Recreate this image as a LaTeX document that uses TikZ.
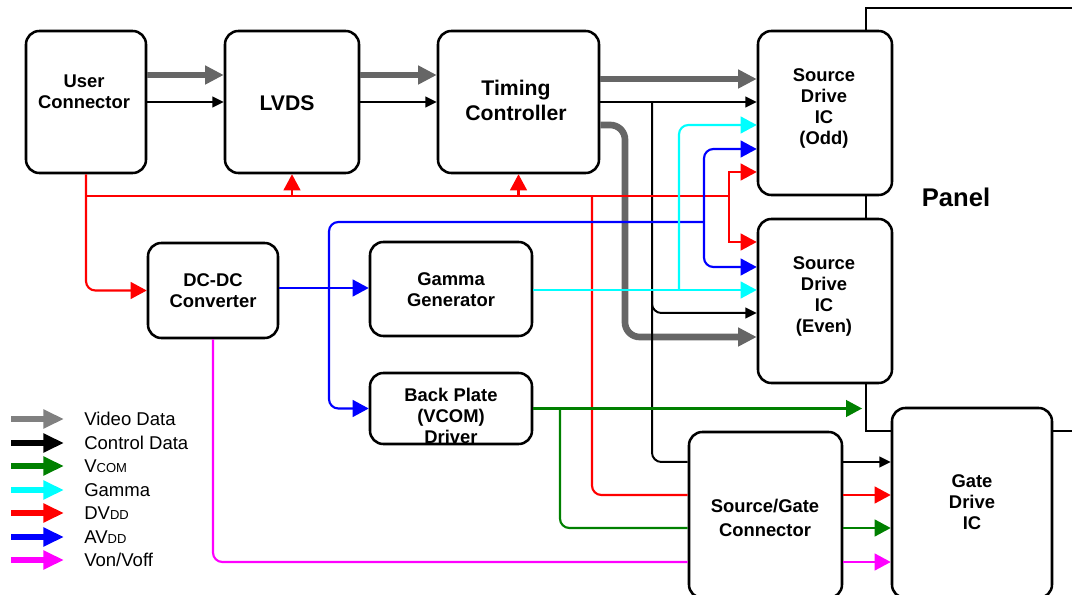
\documentclass[tikz,border=0pt]{standalone}
\usepackage{fontspec}
\setmainfont{Liberation Sans}
\usetikzlibrary{arrows.meta,fit,calc}
\definecolor{vgrey}{RGB}{102,102,102}
\definecolor{lgrey}{RGB}{128,128,128}
\definecolor{vgreen}{RGB}{0,128,0}
\definecolor{vcyan}{RGB}{0,255,255}
\definecolor{vred}{RGB}{255,0,0}
\definecolor{vblue}{RGB}{0,0,255}
\definecolor{vmag}{RGB}{255,0,255}
\begin{document}
\begin{tikzpicture}[x=0.75pt,y=-0.75pt,
  box/.style={draw, line width=1.9pt, rounded corners=10pt, fill=white, inner sep=0pt},
  lbl/.style={font=\bfseries\fontsize{13.8}{15.75}\selectfont, align=center, inner sep=0pt},
  lblL/.style={font=\bfseries\fontsize{15.9}{18.75}\selectfont, align=center, inner sep=0pt},
  leg/.style={font=\fontsize{13.9}{16}\selectfont, anchor=west, inner sep=0pt},
  ctl/.style={draw=black, line width=1.5pt, rounded corners=7pt},
  ctlA/.style={ctl, -{Triangle[length=8.5pt,width=8pt]}},
  pw/.style={draw=#1, line width=1.6pt, rounded corners=7pt},
  pwA/.style={pw=#1, -{Triangle[length=12pt,width=12.5pt]}},
  vid/.style={draw=vgrey, line width=5pt, rounded corners=11pt},
  vidA/.style={vid, -{Triangle[length=14pt,width=13.5pt]}},
  legA/.style={draw=#1, line width=4.5pt, -{Triangle[length=15.5pt,width=13.5pt]}}
]
\path[use as bounding box] (0,0) rectangle (1072,595);
\clip (0,0) rectangle (1072,595);

% panel
\node[draw, line width=1.9pt, inner sep=0pt, fit={(866,8) (1110,431)}] (panel) {};
\node[font=\bfseries\fontsize{19.2}{22}\selectfont, inner sep=0pt] (panelt) at (956,197) {Panel};

% boxes
\node[box, fit={(26,31) (146,173)}] (uc) {};
\node[box, fit={(225,31) (359,173)}] (lvds) {};
\node[box, fit={(438,31) (599,173)}] (tc) {};
\node[box, fit={(758,31) (892,195)}] (sodd) {};
\node[box, fit={(758,219) (892,383)}] (seven) {};
\node[box, fit={(148,243) (278,338)}] (dcdc) {};
\node[box, fit={(370,242) (532,336)}] (gamma) {};
\node[box, fit={(370,373) (532,444)}] (bp) {};
\node[box, fit={(689,432) (842,598)}] (sgc) {};
\node[box, fit={(892,408) (1052,598)}] (gd) {};

% labels
\node[lbl] (uct) at (84,91.5) {User\\Connector};
\node[lblL] (lvdst) at (287,103) {LVDS};
\node[lblL] (tct) at (516,100.5) {Timing\\Controller};
\node[lbl] (soddt) at (824,108.5) {Source\\Drive\\IC\\(Odd)};
\node[lbl] (sevent) at (824,296.5) {Source\\Drive\\IC\\(Even)};
\node[lbl] (dcdct) at (213,291) {DC-DC\\Converter};
\node[lbl] (gammat) at (451,289.5) {Gamma\\Generator};
\node[lbl] (bpt) at (451,415.5) {Back Plate\\(VCOM)\\Driver};
\node[lbl] (sgct) at (765,518) {Source/Gate\\[2.3pt]Connector};
\node[lbl] (gdt) at (972,502) {Gate\\Drive\\IC};

% level coordinates
\coordinate (y75) at (0,75);
\coordinate (y79) at (0,79);
\coordinate (y102) at (0,102);
\coordinate (y125) at (0,125);
\coordinate (y149) at (0,149);
\coordinate (y172) at (0,172);
\coordinate (y196) at (0,196);
\coordinate (y242) at (0,242);
\coordinate (y267) at (0,267);
\coordinate (y288) at (0,288);
\coordinate (y290) at (0,290);
\coordinate (y313) at (0,313);
\coordinate (y337) at (0,337);
\coordinate (y462) at (0,462);
\coordinate (y495) at (0,495);
\coordinate (y528) at (0,528);
\coordinate (y562) at (0,562);
\coordinate (rx) at (729,196);
\coordinate (rdown) at (592,196);
\coordinate (gx) at (625,125);
\coordinate (bx) at (652,102);
\coordinate (cx) at (679,290);
\coordinate (bl1) at (329,222);
\coordinate (bl2) at (704,222);
\coordinate (gj) at (560,408);

% video data
\draw[vidA] (uc.east |- y75) -- (lvds.west |- y75);
\draw[vidA] (lvds.east |- y75) -- (tc.west |- y75);
\draw[vidA] (tc.east |- y79) -- (sodd.west |- y79);
\draw[vidA] (tc.east |- y125) -- (gx) -- (gx |- y337) -- (seven.west |- y337);

% control data
\draw[ctlA] (uc.east |- y102) -- (lvds.west |- y102);
\draw[ctlA] (lvds.east |- y102) -- (tc.west |- y102);
\draw[ctlA] (tc.east |- y102) -- (sodd.west |- y102);
\draw[ctl] (bx) -- (bx |- y462) -- (sgc.west |- y462);
\draw[ctlA] (bx |- y290) -- (bx |- y313) -- (seven.west |- y313);
\draw[ctlA] (sgc.east |- y462) -- (gd.west |- y462);

% DVDD
\draw[pwA=vred] (uc.south) -- (uc.south |- dcdc.west) -- (dcdc.west);
\draw[pw=vred] (uc.south |- y196) -- (rx);
\draw[pwA=vred] (lvds.south |- y196) -- (lvds.south);
\draw[pwA=vred] (tc.south |- y196) -- (tc.south);
\draw[pwA=vred, sharp corners] (rx) -- (rx |- y172) -- (sodd.west |- y172);
\draw[pwA=vred, sharp corners] (rx) -- (rx |- y242) -- (seven.west |- y242);
\draw[pw=vred] (rdown) -- (rdown |- y495) -- (sgc.west |- y495);
\draw[pwA=vred] (sgc.east |- y495) -- (gd.west |- y495);

% AVDD
\draw[pwA=vblue] (dcdc.east |- y288) -- (gamma.west |- y288);
\draw[pwA=vblue] (bl2) -- (bl1) -- (bl1 |- bp.west) -- (bp.west);
\draw[pwA=vblue] (bl2) -- (bl2 |- y149) -- (sodd.west |- y149);
\draw[pwA=vblue] (bl2) -- (bl2 |- y267) -- (seven.west |- y267);

% Gamma
\draw[pwA=vcyan] (gamma.east |- y290) -- (seven.west |- y290);
\draw[pwA=vcyan] (cx) -- (cx |- y125) -- (sodd.west |- y125);

% VCOM
\draw[pwA=vgreen, shorten >=2pt] (bp.east) -- (panel.west |- bp.east);
\draw[pw=vgreen] (gj) -- (gj |- y528) -- (sgc.west |- y528);
\draw[pwA=vgreen] (sgc.east |- y528) -- (gd.west |- y528);

% Von/Voff
\draw[pw=vmag] (dcdc.south) -- (dcdc.south |- y562) -- (sgc.west |- y562);
\draw[pwA=vmag] (sgc.east |- y562) -- (gd.west |- y562);

% legend
\node[leg] (l1) at (84,419) {Video Data};
\node[leg] (l2) at (84,443) {Control Data};
\node[leg] (l3) at (84,466) {V{\fontsize{9.75}{10}\selectfont COM}};
\node[leg] (l4) at (84,490) {Gamma};
\node[leg] (l5) at (84,513) {DV{\fontsize{9.75}{10}\selectfont DD}};
\node[leg] (l6) at (84,537) {AV{\fontsize{9.75}{10}\selectfont DD}};
\node[leg] (l7) at (84,560) {Von/Voff};
\draw[legA=lgrey] ($(l1.west)+(-73,0)$) -- ($(l1.west)+(-20,0)$);
\draw[legA=black] ($(l2.west)+(-73,0)$) -- ($(l2.west)+(-20,0)$);
\draw[legA=vgreen] ($(l3.west)+(-73,0)$) -- ($(l3.west)+(-20,0)$);
\draw[legA=vcyan] ($(l4.west)+(-73,0)$) -- ($(l4.west)+(-20,0)$);
\draw[legA=vred] ($(l5.west)+(-73,0)$) -- ($(l5.west)+(-20,0)$);
\draw[legA=vblue] ($(l6.west)+(-73,0)$) -- ($(l6.west)+(-20,0)$);
\draw[legA=vmag] ($(l7.west)+(-73,0)$) -- ($(l7.west)+(-20,0)$);
\end{tikzpicture}
\end{document}
